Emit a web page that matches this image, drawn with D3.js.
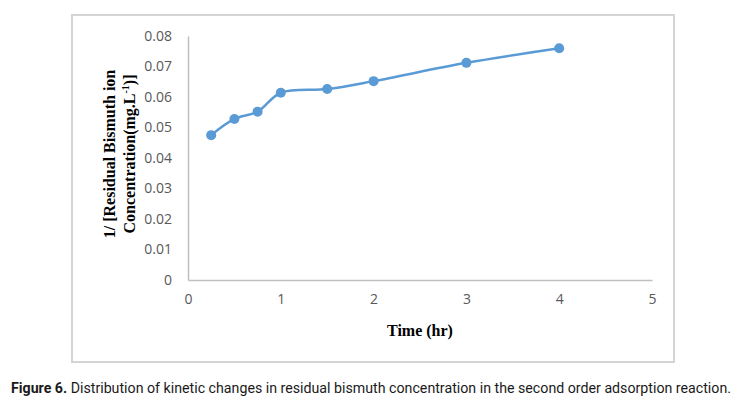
<!DOCTYPE html>
<html>
<head>
<meta charset="utf-8">
<script src="https://cdn.jsdelivr.net/npm/d3@7"></script>
<style>
  body { margin: 0; background: #fff; }
  svg { display: block; }
</style>
</head>
<body>
<svg id="chart" width="740" height="410"></svg>
<script>
// values
const timeHr = [0.25, 0.5, 0.75, 1, 1.5, 2, 3, 4];
const invConc = [0.0475, 0.0528, 0.0552, 0.0614, 0.0626, 0.0652, 0.0712, 0.076];
const xTicks = [0, 1, 2, 3, 4, 5];
const yTicks = [0, 0.01, 0.02, 0.03, 0.04, 0.05, 0.06, 0.07, 0.08];

const svg = d3.select('#chart');
const margin = { left: 188, top: 36, right: 88, bottom: 130 };
const width = 740 - margin.left - margin.right;
const height = 410 - margin.top - margin.bottom;

// outer frame
svg.append('rect')
  .attr('x', 72).attr('y', 15)
  .attr('width', 602).attr('height', 347)
  .attr('fill', 'none')
  .attr('stroke', '#d4d4d4')
  .attr('stroke-width', 2);

const g = svg.append('g')
  .attr('transform', `translate(${margin.left},${margin.top})`);

const x = d3.scaleLinear().domain([0, 5]).range([0, width]);
const y = d3.scaleLinear().domain([0, 0.08]).range([height, 0]);

const xAxis = g.append('g')
  .attr('transform', `translate(0,${height})`)
  .call(d3.axisBottom(x).tickValues(xTicks).tickSize(0).tickPadding(14).tickFormat(d3.format('d')));
const yAxis = g.append('g')
  .call(d3.axisLeft(y).tickValues(yTicks).tickSize(0).tickPadding(16).tickFormat(d => d === 0 ? '0' : d3.format('.2f')(d)));

[xAxis, yAxis].forEach(a => {
  a.select('.domain').attr('stroke', '#bfbfbf').attr('stroke-width', 1.5);
  a.selectAll('text')
    .attr('fill', '#595959')
    .style('font-family', '"Open Sans", "Liberation Sans", sans-serif')
    .style('font-size', '14px');
});

const line = d3.line()
  .x((d, i) => x(timeHr[i]))
  .y(d => y(d))
  .curve(d3.curveCatmullRom.alpha(0.5));

g.append('path')
  .datum(invConc)
  .attr('d', line)
  .attr('fill', 'none')
  .attr('stroke', '#5b9bd5')
  .attr('stroke-width', 2.5);

g.selectAll('circle')
  .data(invConc)
  .enter()
  .append('circle')
  .attr('cx', (d, i) => x(timeHr[i]))
  .attr('cy', d => y(d))
  .attr('r', 5)
  .attr('fill', '#5b9bd5');

// axis titles
const serif = '"Liberation Serif", "DejaVu Serif", serif';
svg.append('text')
  .attr('x', 420).attr('y', 336)
  .attr('text-anchor', 'middle')
  .style('font-family', serif).style('font-weight', 'bold').style('font-size', '16px')
  .text('Time (hr)');

const yt = svg.append('g').attr('transform', 'translate(115,154) rotate(-90)');
yt.append('text')
  .attr('text-anchor', 'middle')
  .style('font-family', serif).style('font-weight', 'bold').style('font-size', '16px')
  .text('1/ [Residual Bismuth ion');
const t2 = yt.append('text')
  .attr('y', 20)
  .attr('text-anchor', 'middle')
  .style('font-family', serif).style('font-weight', 'bold').style('font-size', '16px');
t2.append('tspan').text('Concentration(mg.L');
t2.append('tspan').attr('dy', -6).style('font-size', '10px').text('-1');
t2.append('tspan').attr('dy', 6).text(')]');

// caption
const cap = svg.append('text')
  .attr('x', 11).attr('y', 393)
  .attr('textLength', 720)
  .attr('lengthAdjust', 'spacingAndGlyphs')
  .style('font-family', '"Liberation Sans Narrow", "Roboto", sans-serif')
  .style('font-size', '14px')
  .attr('fill', '#1a1a1a');
cap.append('tspan').style('font-weight', 'bold').text('Figure 6.');
cap.append('tspan').text(' Distribution of kinetic changes in residual bismuth concentration in the second order adsorption reaction.');
</script>
</body>
</html>
